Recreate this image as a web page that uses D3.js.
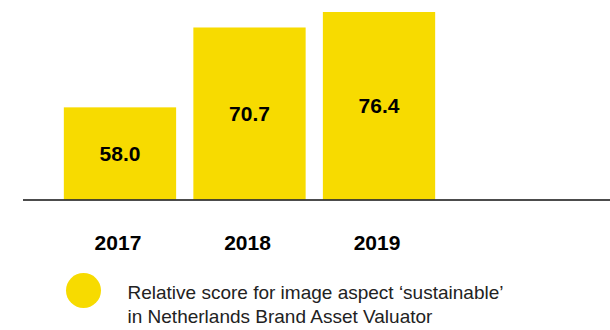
<!DOCTYPE html>
<html><head><meta charset="utf-8">
<script src="https://cdn.jsdelivr.net/npm/d3@7"></script>
<style>html,body{margin:0;padding:0;background:#fff;}svg{display:block;}</style>
</head><body>
<svg id="chart" width="610" height="330"></svg>
<script>
const years = ["2017", "2018", "2019"];
const scores = [58.0, 70.7, 76.4];
const legendLines = ["Relative score for image aspect \u2018sustainable\u2019", "in Netherlands Brand Asset Valuator"];

const svg = d3.select("#chart");
const baseY = 199.5;
const yellow = "#F7DB00";
const font = "'Liberation Sans', Arial, Helvetica, sans-serif";

const x = d3.scaleBand().domain(years).range([47, 452]).paddingInner(0.133).paddingOuter(0.13);
// axis floor (bars start above this value); compressed power scale above it
const floorVal = 56.86;
const y = d3.scalePow().exponent(0.25).domain([0, d3.max(scores) - floorVal]).range([baseY, 12]);
const yv = v => y(v - floorVal);

const data = years.map((yr, i) => ({year: yr, value: scores[i]}));

svg.selectAll("rect.bar").data(data).enter().append("rect")
  .attr("class", "bar")
  .attr("x", d => x(d.year))
  .attr("width", x.bandwidth())
  .attr("y", d => yv(d.value))
  .attr("height", d => baseY - yv(d.value))
  .attr("fill", yellow);

svg.selectAll("text.val").data(data).enter().append("text")
  .attr("class", "val")
  .attr("x", d => x(d.year) + x.bandwidth() / 2)
  .attr("y", d => (yv(d.value) + baseY) / 2)
  .attr("dy", "0.36em")
  .attr("text-anchor", "middle")
  .attr("font-family", font)
  .attr("font-weight", "bold")
  .attr("font-size", 21)
  .attr("fill", "#000")
  .text(d => d.value.toFixed(1));

svg.append("line")
  .attr("x1", 23).attr("x2", 610)
  .attr("y1", 200).attr("y2", 200)
  .attr("stroke", "#111").attr("stroke-width", 1.5);

svg.selectAll("text.year").data(years).enter().append("text")
  .attr("class", "year")
  .attr("x", d => x(d) + x.bandwidth() / 2 - 2)
  .attr("y", 250)
  .attr("text-anchor", "middle")
  .attr("font-family", font)
  .attr("font-weight", "bold")
  .attr("font-size", 21)
  .attr("fill", "#000")
  .text(d => d);

svg.append("circle")
  .attr("cx", 83.5).attr("cy", 290.5).attr("r", 17.5)
  .attr("fill", yellow);

svg.selectAll("text.legend").data(legendLines).enter().append("text")
  .attr("class", "legend")
  .attr("x", 127.5)
  .attr("y", (d, i) => 299 + i * 24)
  .attr("font-family", font)
  .attr("font-size", 19)
  .attr("fill", "#222")
  .text(d => d);
</script>
</body></html>
